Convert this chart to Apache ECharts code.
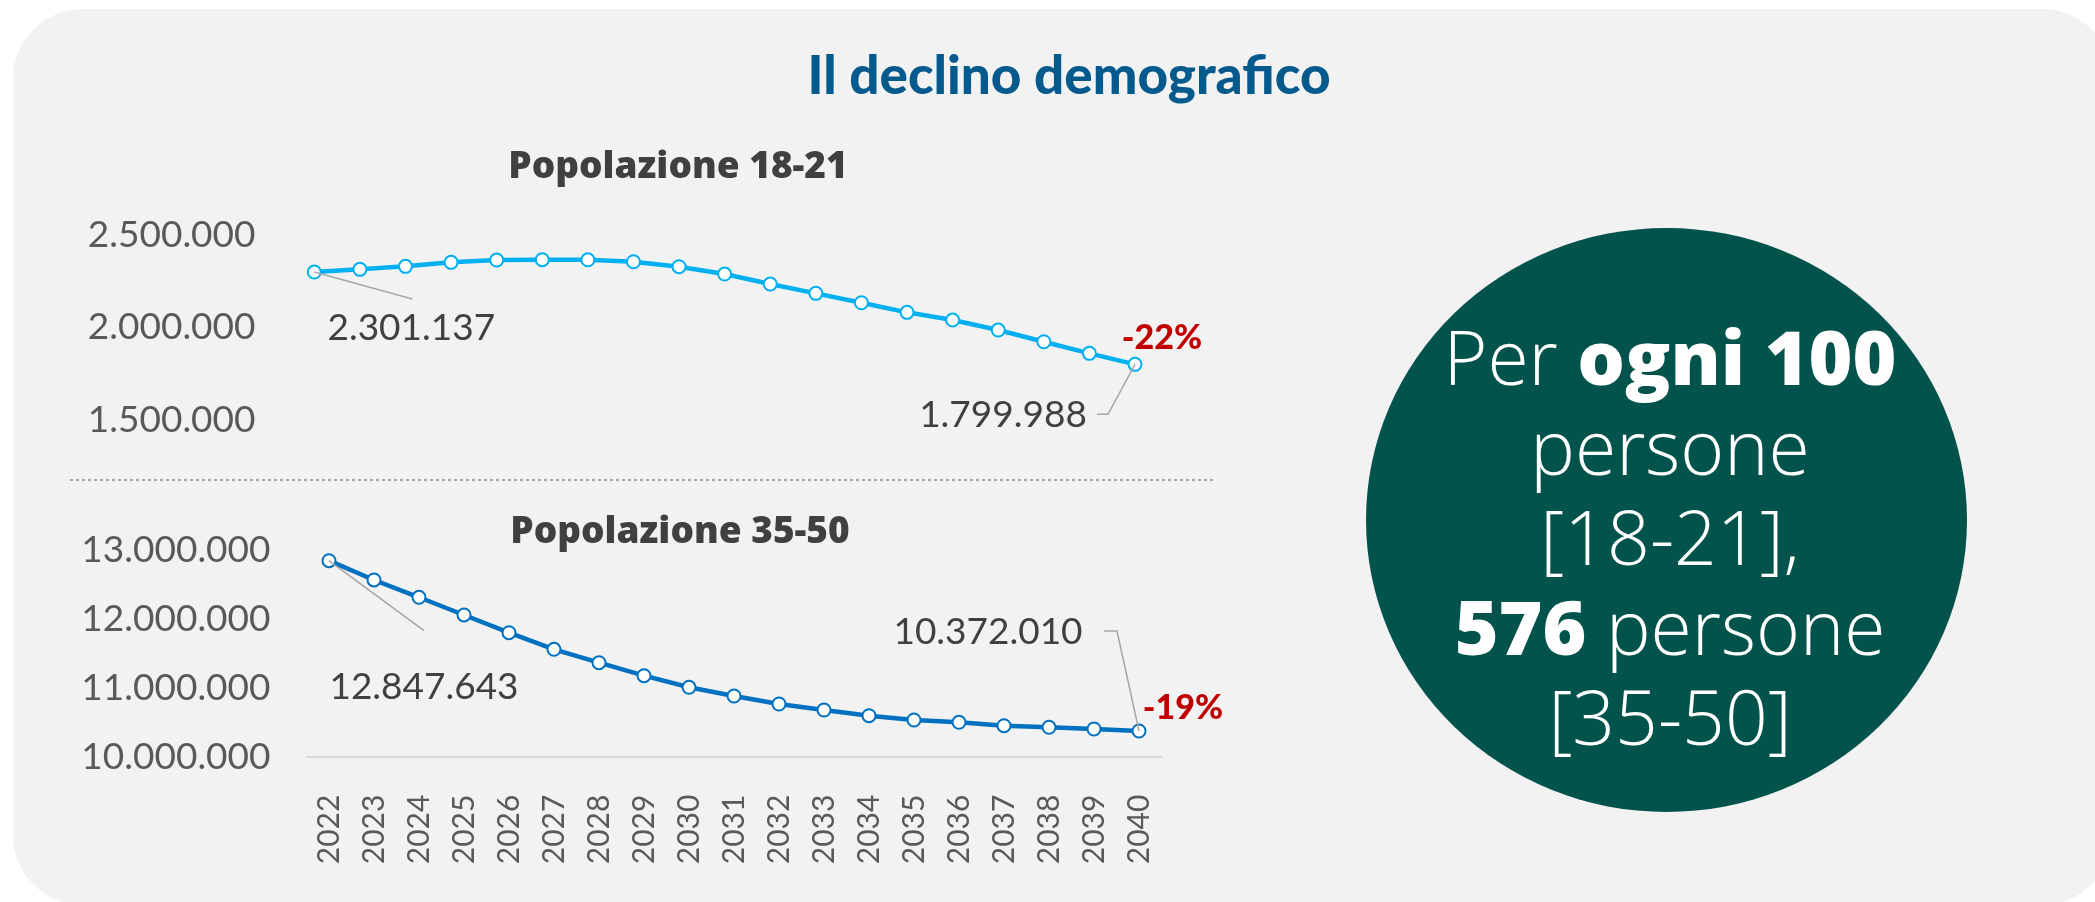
<!DOCTYPE html>
<html><head><meta charset="utf-8">
<script src="https://cdn.jsdelivr.net/npm/echarts@6/dist/echarts.min.js"></script>
<style>html,body{margin:0;padding:0;background:#ffffff;}#c{width:2095px;height:902px;}</style>
</head><body><div id="c"></div>
<script>
// ---- data ----
const years = ['2022','2023','2024','2025','2026','2027','2028','2029','2030','2031','2032','2033','2034','2035','2036','2037','2038','2039','2040'];
const pop1821 = [2301137,2315800,2332100,2353800,2366300,2368000,2367500,2357000,2329900,2290300,2236000,2185500,2134400,2082300,2040500,1986200,1922700,1859700,1799988];
const pop3550 = [12847643,12567200,12315700,12058400,11801100,11559800,11365000,11176000,11007400,10881000,10764600,10677400,10594600,10532100,10498600,10449200,10425900,10401200,10372010];
const ticks1821 = [1500000,2000000,2500000];
const ticks3550 = [10000000,11000000,12000000,13000000];
const titleMain = 'Il declino demografico';
const titleTop = 'Popolazione 18-21';
const titleBottom = 'Popolazione 35-50';

// ---- helpers ----
const fmt = v => String(Math.round(v)).replace(/\B(?=(\d{3})+(?!\d))/g, '.');
const pct = arr => Math.round((arr[arr.length-1]/arr[0]-1)*100) + '%';
const FONT = 'Lato, "Open Sans", sans-serif';
const FONT2 = '"Open Sans", Lato, sans-serif';
const last = years.length - 1;

function withLabels(arr, firstOff, lastOff) {
  return arr.map((v, i) => {
    if (i === 0) return {value: v, label: {show: true, offset: firstOff}};
    if (i === last) return {value: v, label: {show: true, offset: lastOff}};
    return v;
  });
}

const chart = echarts.init(document.getElementById('c'), null, {renderer: 'canvas'});

const axisLabelY = {color: '#595959', fontSize: 37, fontFamily: FONT, margin: 36};

const option = {
  animation: false,
  backgroundColor: '#ffffff',
  grid: [
    {left: 291.5, width: 866.3, top: 235.4, height: 184.2},
    {left: 306.5, width: 855, top: 550.2, height: 206.4}
  ],
  xAxis: [
    {gridIndex: 0, type: 'category', data: years, boundaryGap: true,
     axisLine: {show: false}, axisTick: {show: false}, axisLabel: {show: false}, splitLine: {show: false}},
    {gridIndex: 1, type: 'category', data: years, boundaryGap: true,
     axisLine: {show: true, lineStyle: {color: '#D9D9D9', width: 2}}, axisTick: {show: false},
     axisLabel: {rotate: 90, color: '#595959', fontSize: 30, fontFamily: FONT, margin: 38}, splitLine: {show: false}}
  ],
  yAxis: [
    {gridIndex: 0, type: 'value', min: ticks1821[0], max: ticks1821[ticks1821.length-1], interval: ticks1821[1]-ticks1821[0],
     axisLine: {show: false}, axisTick: {show: false}, splitLine: {show: false},
     axisLabel: Object.assign({formatter: fmt}, axisLabelY)},
    {gridIndex: 1, type: 'value', min: ticks3550[0], max: ticks3550[ticks3550.length-1], interval: ticks3550[1]-ticks3550[0],
     axisLine: {show: false}, axisTick: {show: false}, splitLine: {show: false},
     axisLabel: Object.assign({formatter: fmt}, axisLabelY)}
  ],
  series: [
    {type: 'line', xAxisIndex: 0, yAxisIndex: 0, data: withLabels(pop1821, [97, 56], [-132, 51]),
     symbol: 'circle', symbolSize: 13, showAllSymbol: true,
     lineStyle: {color: '#00B0F0', width: 4.5},
     itemStyle: {color: '#FFFFFF', borderColor: '#00B0F0', borderWidth: 2},
     label: {show: false, position: 'inside', color: '#404040', fontSize: 37, fontFamily: FONT, formatter: p => fmt(p.value)},
     markPoint: {symbol: 'circle', symbolSize: 1, itemStyle: {color: 'rgba(0,0,0,0)'},
       label: {show: true, position: 'inside', offset: [27, -26], color: '#C00000', fontSize: 34, fontWeight: 900, fontFamily: FONT, formatter: () => pct(pop1821)},
       data: [{coord: [last, pop1821[last]]}]},
     z: 3},
    {type: 'line', xAxisIndex: 1, yAxisIndex: 1, data: withLabels(pop3550, [95, 126], [-151, -99]),
     symbol: 'circle', symbolSize: 13, showAllSymbol: true,
     lineStyle: {color: '#0070C0', width: 4.5},
     itemStyle: {color: '#FFFFFF', borderColor: '#0070C0', borderWidth: 2},
     label: {show: false, position: 'inside', color: '#404040', fontSize: 37, fontFamily: FONT, formatter: p => fmt(p.value)},
     markPoint: {symbol: 'circle', symbolSize: 1, itemStyle: {color: 'rgba(0,0,0,0)'},
       label: {show: true, position: 'inside', offset: [44, -23], color: '#C00000', fontSize: 34, fontWeight: 900, fontFamily: FONT, formatter: () => pct(pop3550)},
       data: [{coord: [last, pop3550[last]]}]},
     z: 3}
  ],
  graphic: [
    {id: 'panel', type: 'rect', z: -10, shape: {x: 13, y: 9, width: 2099, height: 896, r: 70}, style: {fill: '#F2F2F2'}},
    {id: 'title', type: 'text', z: 5, x: 1069, y: 77,
     style: {text: titleMain, fill: '#045A8D', fontSize: 53, fontWeight: 900, fontFamily: FONT, textAlign: 'center', textVerticalAlign: 'middle'}},
    {id: 'sub1', type: 'text', z: 5, x: 678, y: 167,
     style: {text: titleTop, fill: '#404040', fontSize: 37, fontWeight: 800, fontFamily: FONT2, textAlign: 'center', textVerticalAlign: 'middle'}},
    {id: 'sub2', type: 'text', z: 5, x: 680, y: 532,
     style: {text: titleBottom, fill: '#404040', fontSize: 37, fontWeight: 800, fontFamily: FONT2, textAlign: 'center', textVerticalAlign: 'middle'}},
    {id: 'sep', type: 'line', z: 5, shape: {x1: 70, y1: 480, x2: 1213, y2: 480},
     style: {stroke: '#A6A6A6', lineWidth: 2, lineDash: [3, 3]}},
    {id: 'bubble', type: 'circle', z: 1, x: 1666.5, y: 520, scaleY: 292/300.5,
     shape: {cx: 0, cy: 0, r: 300.5}, style: {fill: '#02534C'}},
    {id: 'bubbleText', type: 'text', z: 6, x: 1670, y: 544,
     style: {
       text: '{l|Per }{b|ogni 100}\n{l|persone}\n{l|[18-21],}\n{b|576}{l| persone}\n{l|[35-50]}',
       fill: '#FFFFFF', fontSize: 75, fontFamily: FONT2, textAlign: 'center', textVerticalAlign: 'middle',
       rich: {
         l: {fill: '#FFFFFF', fontSize: 75, fontWeight: 300, fontFamily: FONT2, lineHeight: 90},
         b: {fill: '#FFFFFF', fontSize: 75, fontWeight: 800, fontFamily: FONT2, lineHeight: 90}
       }
     }}
  ]
};
chart.setOption(option);

// leader lines anchored to the data points through the library's scales
function px(seriesIndex, i, arr) { return chart.convertToPixel({seriesIndex: seriesIndex}, [i, arr[i]]); }
function poly(id, p, offs) {
  const pts = [[p[0], p[1]]].concat(offs.map(o => [p[0] + o[0], p[1] + o[1]]));
  return {id: id, type: 'polyline', z: 10, shape: {points: pts}, style: {stroke: '#A6A6A6', lineWidth: 1.5, fill: null}};
}
const a0 = px(0, 0, pop1821), a1 = px(0, last, pop1821);
const b0 = px(1, 0, pop3550), b1 = px(1, last, pop3550);
chart.setOption({graphic: [
  poly('lead1', a0, [[98, 27]]),
  poly('lead2', a1, [[-27, 50], [-38, 50]]),
  poly('lead3', b0, [[95, 70]]),
  poly('lead4', b1, [[-22, -100], [-35, -100]])
]});
</script></body></html>
